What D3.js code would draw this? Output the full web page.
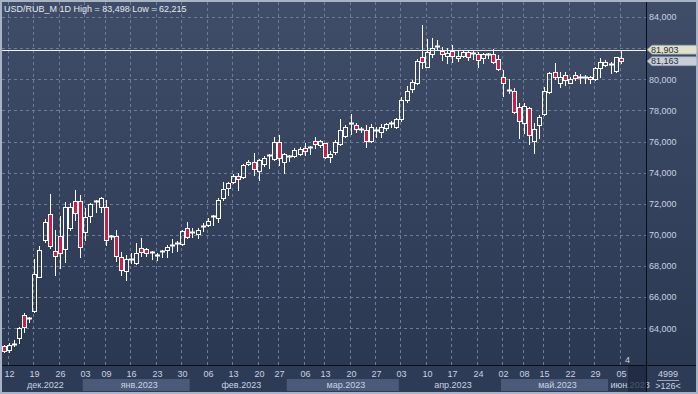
<!DOCTYPE html>
<html>
<head>
<meta charset="utf-8">
<script src="https://cdn.jsdelivr.net/npm/d3@7"></script>
<style>
  html, body { margin: 0; padding: 0; background: #a9b3c5; }
  svg { display: block; font-family: "Liberation Sans", Arial, sans-serif; }
</style>
</head>
<body>
<div id="chart"></div>
<script>
// daily candles, USD/RUB_M, 09.12.2022 .. 05.06.2023
const opens = [62.88,62.60,62.98,63.35,64.86,64.61,65.13,67.31,69.67,71.34,68.96,69.93,69.07,70.42,72.18,72.18,70.20,71.23,72.10,71.77,
  71.77,69.90,69.95,68.60,67.70,68.43,68.17,69.18,69.09,68.90,68.73,68.90,69.03,69.28,69.44,69.39,70.46,70.10,70.04,70.50,
  70.63,71.15,71.10,72.39,72.99,73.42,73.78,73.70,74.55,74.70,74.12,74.53,75.07,74.85,75.95,74.66,75.00,75.07,75.19,75.56,
  75.58,76.01,75.77,75.88,74.98,75.34,75.84,76.37,77.15,77.06,76.80,76.74,76.05,76.72,76.59,76.85,77.15,76.91,77.42,78.66,
  79.37,79.77,81.40,80.80,81.60,82.07,81.83,81.49,81.81,81.34,81.49,81.76,81.64,81.60,81.34,81.58,81.60,81.28,80.12,79.28,
  79.24,78.19,77.17,78.13,76.05,77.06,77.76,79.20,80.48,79.74,80.27,79.77,80.27,80.10,80.14,80.16,79.99,80.74,80.91,80.95,
  80.54,81.34];
const highs = [62.95,63.07,63.25,64.10,64.97,64.75,68.45,69.29,71.02,72.63,70.31,71.21,72.13,72.07,72.88,72.56,71.71,72.07,72.24,72.45,
  72.24,69.99,70.31,68.92,68.71,68.82,69.46,69.78,69.18,68.98,68.86,69.03,69.35,69.72,69.61,70.31,70.85,70.42,70.42,70.74,
  71.06,71.28,72.35,73.42,73.42,73.91,73.95,74.55,74.81,75.24,74.85,75.07,75.18,76.31,76.41,75.24,75.13,75.60,75.62,75.88,
  75.71,76.27,76.09,75.92,75.41,76.09,77.44,77.06,77.76,77.17,76.95,77.06,77.12,76.95,77.12,77.20,77.33,77.49,78.84,79.56,
  79.95,81.28,83.498,82.56,82.63,82.52,82.09,81.98,82.20,81.87,81.87,81.87,81.83,81.76,81.70,81.70,81.92,81.55,80.59,79.99,
  79.41,78.45,78.45,78.19,77.17,77.70,79.52,80.48,81.02,80.48,80.48,80.12,80.48,80.33,80.27,80.20,80.76,81.34,81.23,81.12,
  81.44,81.903];
const lows = [62.45,62.49,62.88,63.03,63.78,64.42,65.07,67.28,69.54,69.14,67.42,67.85,68.28,70.31,70.96,68.60,69.67,70.85,71.49,71.49,
  69.35,69.72,68.32,67.42,67.10,68.21,68.14,68.64,68.64,68.45,68.39,68.60,68.60,68.92,68.98,69.35,69.78,69.88,69.78,70.25,
  70.57,70.63,70.85,72.24,72.56,73.31,72.88,73.63,74.49,73.85,73.52,74.42,74.31,74.81,74.49,73.95,74.74,75.02,75.13,75.13,
  75.18,75.56,75.66,74.92,74.70,75.19,75.77,76.31,76.46,76.59,76.63,75.66,75.98,76.31,76.31,76.74,76.95,76.86,77.33,78.55,
  79.20,79.69,80.70,80.76,81.44,81.87,81.23,81.06,81.12,81.19,81.44,81.23,81.28,80.80,81.06,81.38,81.06,80.59,78.92,79.09,
  77.85,76.20,76.52,75.84,75.24,76.20,77.70,79.13,79.99,79.48,79.63,79.74,79.95,79.74,79.74,79.77,79.95,80.16,80.85,80.42,
  80.48,81.02];
const closes = [62.54,62.92,63.02,64.00,64.10,64.65,67.47,69.03,70.81,69.29,68.66,68.82,71.81,71.77,71.39,69.24,71.13,71.98,72.15,72.35,
  69.67,69.86,68.64,67.74,68.45,68.47,68.82,68.92,68.82,68.86,68.69,68.94,69.24,69.32,69.48,70.25,69.88,70.16,70.31,70.55,
  70.91,71.19,72.24,72.93,73.31,73.78,73.57,74.49,74.70,74.21,74.81,74.92,75.11,75.98,74.92,75.18,75.04,75.45,75.50,75.41,
  75.62,75.82,76.05,74.98,75.19,75.95,76.74,76.95,77.19,76.80,76.76,76.03,76.92,76.76,76.95,77.12,77.19,77.44,78.66,79.24,
  79.82,81.17,81.12,81.76,82.04,82.11,81.60,81.70,81.49,81.49,81.73,81.40,81.68,81.23,81.60,81.62,81.12,80.63,79.74,79.24,
  77.91,77.33,78.28,76.41,76.78,77.59,79.26,80.38,80.16,80.16,79.95,79.99,80.06,80.14,80.10,79.99,80.70,81.08,81.12,80.99,
  81.40,81.163];

const tickIdx  = [1,6,11,16,20,25,30,35,40,45,50,54,59,63,68,73,78,83,88,93,98,102,106,111,116,121];
const tickText = ["12","19","26","03","09","16","23","30","06","13","20","27","06","13","20","27","03","10","17","24","02","08","15","22","29","05"];
const monthStart = [0,16,37,56,78,98,119];
const monthText  = ["дек.2022","янв.2023","фев.2023","мар.2023","апр.2023","май.2023","июн.2023"];
const gridTicks  = [64,66,68,70,72,74,76,78,80,82,84];
const labelTicks = [64,66,68,70,72,74,76,78,80,84];   // 82 sits under the price tags
const dayHigh = 81.903, lastPrice = 81.163;

const width = 698, height = 394;
const plot = {left: 2, right: 646, top: 2, bottom: 365};

const x = d3.scaleLinear().domain([0, 121]).range([3.7, 620.8]);
const y = d3.scaleLinear().domain([64, 84]).range([328.3, 17]);
const fmt = v => d3.format(".3f")(v).replace(".", ",");

const svg = d3.select("#chart").append("svg")
    .attr("width", width).attr("height", height);

const defs = svg.append("defs");
const grad = defs.append("linearGradient").attr("id", "bg")
    .attr("x1", 0).attr("y1", 0).attr("x2", 0).attr("y2", 1);
grad.append("stop").attr("offset", "0%").attr("stop-color", "#3f4d69");
grad.append("stop").attr("offset", "100%").attr("stop-color", "#2b3852");
defs.append("clipPath").attr("id", "clip").append("rect")
    .attr("x", plot.left).attr("y", plot.top)
    .attr("width", plot.right - plot.left).attr("height", plot.bottom - plot.top);

// frame and backgrounds
svg.append("rect").attr("width", width).attr("height", height).attr("fill", "#a9b3c5");
svg.append("rect").attr("x", 2).attr("y", 2).attr("width", width - 4).attr("height", plot.bottom - 2)
    .attr("fill", "url(#bg)");
svg.append("rect").attr("x", 2).attr("y", plot.bottom).attr("width", width - 4).attr("height", 392 - plot.bottom)
    .attr("fill", "#2e3b56");

// month bands
const bandEdge = i => x(i) - 2.55;
const bandA = d => Math.max(plot.left, bandEdge(d));
const bandB = i => i < monthStart.length - 1 ? bandEdge(monthStart[i + 1]) : plot.right;
svg.append("g").selectAll("rect").data(monthStart).join("rect")
    .attr("x", d => bandA(d))
    .attr("y", 379)
    .attr("width", (d, i) => bandB(i) - bandA(d))
    .attr("height", 12)
    .attr("fill", (d, i) => i % 2 ? "#4a5a78" : "#2e3b56");
svg.append("g").selectAll("text").data(monthStart).join("text")
    .attr("x", (d, i) => (bandA(d) + bandB(i)) / 2 + 3)
    .attr("y", 388)
    .attr("text-anchor", "middle")
    .attr("font-size", 9)
    .attr("fill", "#c9d2e2")
    .text((d, i) => monthText[i]);

// area after last candle
svg.append("rect").attr("x", 628).attr("y", plot.bottom).attr("width", plot.right - 628).attr("height", 392 - plot.bottom)
    .attr("fill", "#1f2940").attr("opacity", 0.75);

// grid
const grid = svg.append("g").attr("stroke", "#6c7c9a").attr("stroke-dasharray", "3,3").attr("stroke-width", 1);
grid.selectAll(".h").data(gridTicks).join("line").attr("class", "h")
    .attr("x1", plot.left).attr("x2", plot.right)
    .attr("y1", d => Math.round(y(d)) + 0.5).attr("y2", d => Math.round(y(d)) + 0.5);
grid.selectAll(".v").data(tickIdx).join("line").attr("class", "v")
    .attr("x1", d => Math.round(x(d)) - 0.5).attr("x2", d => Math.round(x(d)) - 0.5)
    .attr("y1", plot.top).attr("y2", plot.bottom);

// date labels
svg.append("g").selectAll("text").data(tickIdx).join("text")
    .attr("x", d => Math.round(x(d)) + 0.5)
    .attr("y", 377)
    .attr("text-anchor", "middle")
    .attr("font-size", 9)
    .attr("fill", "#c9d2e2")
    .text((d, i) => tickText[i]);

// candles
const candles = svg.append("g").attr("clip-path", "url(#clip)");
const idx = d3.range(opens.length);
const cx = i => Math.round(x(i));
const up = i => closes[i] >= opens[i];
const bodyTop = i => Math.round(y(Math.max(opens[i], closes[i])));
const bodyBot = i => Math.round(y(Math.min(opens[i], closes[i])));
const flat = i => bodyBot(i) - bodyTop(i) < 2;

candles.selectAll(".wick-hi").data(idx).join("line").attr("class", "wick-hi")
    .attr("x1", i => cx(i) + 0.5).attr("x2", i => cx(i) + 0.5)
    .attr("y1", i => Math.round(y(highs[i]))).attr("y2", i => bodyTop(i))
    .attr("stroke", "#ffffff");
candles.selectAll(".wick-lo").data(idx).join("line").attr("class", "wick-lo")
    .attr("x1", i => cx(i) + 0.5).attr("x2", i => cx(i) + 0.5)
    .attr("y1", i => bodyBot(i)).attr("y2", i => Math.round(y(lows[i])) + 1)
    .attr("stroke", "#ffffff");
candles.selectAll(".body").data(idx.filter(i => !flat(i))).join("rect").attr("class", "body")
    .attr("x", i => cx(i) - 1.5)
    .attr("y", i => bodyTop(i) + 0.5)
    .attr("width", 4)
    .attr("height", i => bodyBot(i) - bodyTop(i))
    .attr("fill", i => up(i) ? "none" : "#c91f45")
    .attr("stroke", "#ffffff");
candles.selectAll(".doji").data(idx.filter(i => flat(i))).join("line").attr("class", "doji")
    .attr("x1", i => cx(i) - 2).attr("x2", i => cx(i) + 3)
    .attr("y1", i => bodyTop(i) + 0.5).attr("y2", i => bodyTop(i) + 0.5)
    .attr("stroke", "#ffffff")
    .attr("stroke-width", 2);

// day high line
svg.append("line")
    .attr("x1", plot.left).attr("x2", plot.right)
    .attr("y1", Math.round(y(dayHigh)) + 0.5).attr("y2", Math.round(y(dayHigh)) + 0.5)
    .attr("stroke", "#f4f4f4").attr("stroke-width", 1);

// price axis
svg.append("g").selectAll("text").data(labelTicks).join("text")
    .attr("x", 649)
    .attr("y", d => y(d) + 3.3)
    .attr("font-size", 9)
    .attr("fill", "#c9d2e2")
    .text(d => fmt(d));

const tag = (v, fill) => {
    const yc = y(v);
    const g = svg.append("g");
    g.append("path")
        .attr("d", `M647,${yc} L652,${yc - 4.5} L697,${yc - 4.5} L697,${yc + 4.5} L652,${yc + 4.5} Z`)
        .attr("fill", fill).attr("stroke", "#8e98aa").attr("stroke-width", 0.6);
    g.append("text").attr("x", 651).attr("y", yc + 3.3)
        .attr("font-size", 9).attr("fill", "#2a2f3a").text(fmt(v));
};
tag(dayHigh, "#dfe1c9");
tag(lastPrice, "#c7cdd9");

// separators
svg.append("line").attr("x1", 2).attr("x2", width - 2).attr("y1", plot.bottom + 0.5).attr("y2", plot.bottom + 0.5)
    .attr("stroke", "#0a0e18");
svg.append("line").attr("x1", plot.right + 0.5).attr("x2", plot.right + 0.5).attr("y1", 2).attr("y2", 392)
    .attr("stroke", "#0a0e18");

// title
svg.append("text").attr("x", 4).attr("y", 11.5)
    .attr("font-size", 9).attr("fill", "#e2e8f2")
    .text("USD/RUB_M 1D High = 83,498 Low = 62,215");

// small labels
svg.append("text").attr("x", 625).attr("y", 363).attr("font-size", 9).attr("fill", "#c9d2e2").text("4");
svg.append("text").attr("x", 668).attr("y", 377).attr("text-anchor", "middle")
    .attr("font-size", 9).attr("fill", "#c9d2e2").text("4999");
svg.append("line").attr("x1", 657).attr("x2", 679).attr("y1", 380.5).attr("y2", 380.5).attr("stroke", "#9aa6ba");
svg.append("text").attr("x", 668).attr("y", 389).attr("text-anchor", "middle")
    .attr("font-size", 9).attr("fill", "#c9d2e2").text(">126<");
</script>
</body>
</html>
